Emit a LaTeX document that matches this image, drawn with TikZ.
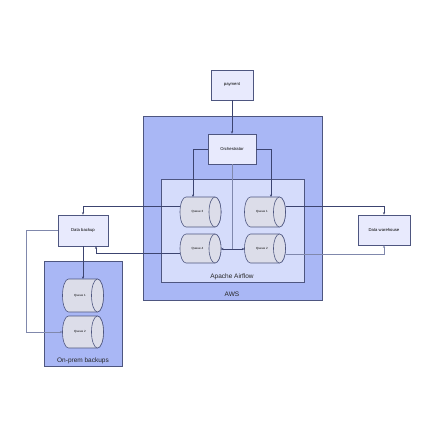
\documentclass[tikz,border=0pt]{standalone}
\usepackage{fontspec}
\setmainfont{Liberation Sans}
\usetikzlibrary{arrows.meta,calc}
\definecolor{awsfill}{HTML}{A9B7F5}
\definecolor{airfill}{HTML}{D5DCFB}
\definecolor{boxfill}{HTML}{E8EAFD}
\definecolor{cylfill}{HTML}{DCDDE9}
\definecolor{edge}{HTML}{4E5680}
\definecolor{lineclr}{HTML}{3C4470}
\definecolor{lightline}{HTML}{8088AC}
\tikzset{
  procbox/.style={draw=edge,fill=boxfill,line width=0.6pt,minimum width=#1,inner sep=0pt,font=\fontsize{4.2}{5}\selectfont},
  qbox/.style={inner sep=0pt,outer sep=0pt},
  cylsty/.style={draw=edge,fill=cylfill,line width=0.6pt},
  qtext/.style={inner sep=0pt,font=\fontsize{3}{4}\selectfont},
  group/.style={draw=edge,line width=0.6pt},
  grouplabel/.style={font=\fontsize{6.5}{7}\selectfont,text=black!85},
  arr/.style={draw=lineclr,line width=0.6pt,-{Stealth[length=2.6pt,width=2.2pt]}},
  lnk/.style={draw=lineclr,line width=0.6pt},
  light/.style={draw=lightline}
}
% name, center, height, half height, label
\newcommand\qcyl[5]{%
  \node[qbox,minimum width=41pt,minimum height=#3pt] (#1) at (#2) {};
  \draw[cylsty] ([xshift=-6pt]#1.north east) -- ([xshift=6pt]#1.north west)
    arc[start angle=270,end angle=90,x radius=6,y radius=#4]
    -- ([xshift=-6pt]#1.south east)
    arc[start angle=90,end angle=-90,x radius=6,y radius=#4] -- cycle;
  \draw[cylsty] ([xshift=-6pt]#1.east) ellipse[x radius=6,y radius=#4];
  \node[qtext] (#1t) at ([xshift=-3pt]#1.center) {#5};
}
\begin{document}
\begin{tikzpicture}[x=1pt,y=-1pt]
\useasboundingbox (0,0) rectangle (442,440);
\fill[white] (0,0) rectangle (442,440);
% groups
\draw[group,fill=awsfill] (143,116) rectangle (322,300);
\draw[group,fill=airfill] (161,179) rectangle (304,282);
\draw[group,fill=awsfill] (44,261) rectangle (122,366);
\node[grouplabel] (lairflow) at (232,277) {Apache Airflow};
\node[grouplabel] (laws) at (232,294) {AWS};
\node[grouplabel] (lonprem) at (83,361) {On-prem backups};
% boxes
\node[procbox=42pt,minimum height=30pt] (pay) at (232,85) {payment};
\node[procbox=48pt,minimum height=30pt] (orch) at (232,149) {Orchestrator};
\node[procbox=50pt,minimum height=31pt] (db) at (83,230.5) {Data backup};
\node[procbox=52pt,minimum height=30pt] (dw) at (384,230) {Data warehouse};
% queues
\qcyl{q3}{200.5,212}{30}{15}{Queue 3}
\qcyl{q1}{265,212}{30}{15}{Queue 1}
\qcyl{q4}{200.5,248.5}{29}{14.5}{Queue 4}
\qcyl{q2}{265,248.5}{29}{14.5}{Queue 2}
\qcyl{oq1}{83,295.5}{33}{16.5}{Queue 1}
\qcyl{oq2}{83,332}{32}{16}{Queue 2}
% connectors
\draw[arr] (pay.south) -- (orch.north);
\draw[arr] (orch.west) -| ([xshift=-7.5pt]q3.north);
\draw[arr] (orch.east) -| ([xshift=6pt]q1.north);
\coordinate (junc) at (orch.south |- 0,249);
\draw[lnk,light] (orch.south) -- (junc);
\draw[arr] (junc) -- (q4.east |- junc);
\draw[arr] (junc) -- (q2.west |- junc);
\draw[arr] (q3.west |- 0,206) -| (db.north);
\draw[arr] (q4.west |- 0,253) -| ([xshift=13pt]db.south);
\draw[arr] (q1.east |- 0,206) -| (dw.north);
\draw[arr,light] (q2.east |- 0,254) -| (dw.south);
\draw[arr] (db.south) -- (oq1.north);
\draw[arr,light] (db.west) -- ++(-31,0) |- (oq2.west);
\end{tikzpicture}
\end{document}
